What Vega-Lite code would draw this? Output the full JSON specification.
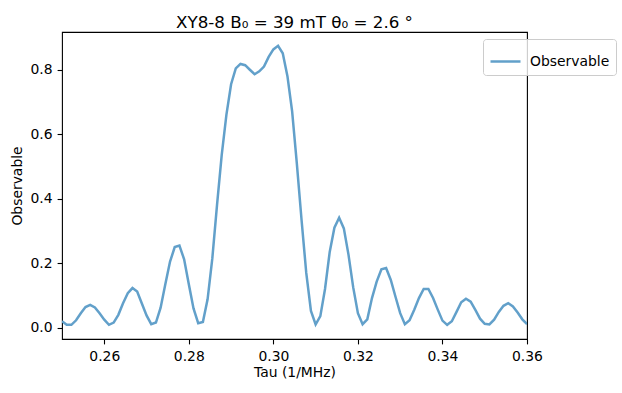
{
  "$schema": "https://vega.github.io/schema/vega-lite/v6.json",
  "width": 465,
  "height": 307,
  "autosize": "none",
  "padding": {"left": 62, "top": 32, "right": 95, "bottom": 54},
  "background": "white",
  "config": {
    "font": "DejaVu Sans",
    "view": {"stroke": "black", "strokeWidth": 1.1},
    "axis": {
      "domain": false,
      "grid": false,
      "tickColor": "black",
      "tickWidth": 1.1,
      "tickSize": 4.9,
      "labelColor": "black",
      "labelFontSize": 13.9,
      "labelFont": "DejaVu Sans",
      "titleFont": "DejaVu Sans",
      "titleFontSize": 13.9,
      "titleFontWeight": "normal",
      "titleColor": "black"
    }
  },
  "title": {
    "text": "XY8-8 B₀ = 39 mT θ₀ = 2.6 °",
    "font": "DejaVu Sans",
    "fontSize": 16.7,
    "fontWeight": "normal",
    "color": "black",
    "anchor": "middle",
    "baseline": "alphabetic",
    "offset": 9,
    "dy": 22
  },
  "data": {
    "values": [
      {"tau": 0.25, "obs": 0.02, "series": "Observable"},
      {"tau": 0.25111, "obs": 0.009, "series": "Observable"},
      {"tau": 0.25222, "obs": 0.009, "series": "Observable"},
      {"tau": 0.25333, "obs": 0.023, "series": "Observable"},
      {"tau": 0.25444, "obs": 0.045, "series": "Observable"},
      {"tau": 0.25556, "obs": 0.064, "series": "Observable"},
      {"tau": 0.25667, "obs": 0.071, "series": "Observable"},
      {"tau": 0.25778, "obs": 0.063, "series": "Observable"},
      {"tau": 0.25889, "obs": 0.045, "series": "Observable"},
      {"tau": 0.26, "obs": 0.025, "series": "Observable"},
      {"tau": 0.26111, "obs": 0.009, "series": "Observable"},
      {"tau": 0.26222, "obs": 0.016, "series": "Observable"},
      {"tau": 0.26333, "obs": 0.04, "series": "Observable"},
      {"tau": 0.26444, "obs": 0.076, "series": "Observable"},
      {"tau": 0.26556, "obs": 0.107, "series": "Observable"},
      {"tau": 0.26667, "obs": 0.123, "series": "Observable"},
      {"tau": 0.26778, "obs": 0.112, "series": "Observable"},
      {"tau": 0.26889, "obs": 0.075, "series": "Observable"},
      {"tau": 0.27, "obs": 0.038, "series": "Observable"},
      {"tau": 0.27111, "obs": 0.011, "series": "Observable"},
      {"tau": 0.27222, "obs": 0.016, "series": "Observable"},
      {"tau": 0.27333, "obs": 0.062, "series": "Observable"},
      {"tau": 0.27444, "obs": 0.135, "series": "Observable"},
      {"tau": 0.27556, "obs": 0.205, "series": "Observable"},
      {"tau": 0.27667, "obs": 0.25, "series": "Observable"},
      {"tau": 0.27778, "obs": 0.255, "series": "Observable"},
      {"tau": 0.27889, "obs": 0.212, "series": "Observable"},
      {"tau": 0.28, "obs": 0.135, "series": "Observable"},
      {"tau": 0.28111, "obs": 0.06, "series": "Observable"},
      {"tau": 0.28222, "obs": 0.014, "series": "Observable"},
      {"tau": 0.28333, "obs": 0.018, "series": "Observable"},
      {"tau": 0.28444, "obs": 0.088, "series": "Observable"},
      {"tau": 0.28556, "obs": 0.215, "series": "Observable"},
      {"tau": 0.28667, "obs": 0.38, "series": "Observable"},
      {"tau": 0.28778, "obs": 0.535, "series": "Observable"},
      {"tau": 0.28889, "obs": 0.66, "series": "Observable"},
      {"tau": 0.29, "obs": 0.755, "series": "Observable"},
      {"tau": 0.29111, "obs": 0.804, "series": "Observable"},
      {"tau": 0.29222, "obs": 0.818, "series": "Observable"},
      {"tau": 0.29333, "obs": 0.814, "series": "Observable"},
      {"tau": 0.29444, "obs": 0.8, "series": "Observable"},
      {"tau": 0.29556, "obs": 0.786, "series": "Observable"},
      {"tau": 0.29667, "obs": 0.795, "series": "Observable"},
      {"tau": 0.29778, "obs": 0.81, "series": "Observable"},
      {"tau": 0.29889, "obs": 0.84, "series": "Observable"},
      {"tau": 0.3, "obs": 0.863, "series": "Observable"},
      {"tau": 0.30111, "obs": 0.874, "series": "Observable"},
      {"tau": 0.30222, "obs": 0.851, "series": "Observable"},
      {"tau": 0.30333, "obs": 0.78, "series": "Observable"},
      {"tau": 0.30444, "obs": 0.671, "series": "Observable"},
      {"tau": 0.30556, "obs": 0.508, "series": "Observable"},
      {"tau": 0.30667, "obs": 0.334, "series": "Observable"},
      {"tau": 0.30778, "obs": 0.17, "series": "Observable"},
      {"tau": 0.30889, "obs": 0.052, "series": "Observable"},
      {"tau": 0.31, "obs": 0.01, "series": "Observable"},
      {"tau": 0.31111, "obs": 0.036, "series": "Observable"},
      {"tau": 0.31222, "obs": 0.12, "series": "Observable"},
      {"tau": 0.31333, "obs": 0.235, "series": "Observable"},
      {"tau": 0.31444, "obs": 0.31, "series": "Observable"},
      {"tau": 0.31556, "obs": 0.341, "series": "Observable"},
      {"tau": 0.31667, "obs": 0.308, "series": "Observable"},
      {"tau": 0.31778, "obs": 0.226, "series": "Observable"},
      {"tau": 0.31889, "obs": 0.125, "series": "Observable"},
      {"tau": 0.32, "obs": 0.045, "series": "Observable"},
      {"tau": 0.32111, "obs": 0.011, "series": "Observable"},
      {"tau": 0.32222, "obs": 0.026, "series": "Observable"},
      {"tau": 0.32333, "obs": 0.092, "series": "Observable"},
      {"tau": 0.32444, "obs": 0.143, "series": "Observable"},
      {"tau": 0.32556, "obs": 0.181, "series": "Observable"},
      {"tau": 0.32667, "obs": 0.185, "series": "Observable"},
      {"tau": 0.32778, "obs": 0.148, "series": "Observable"},
      {"tau": 0.32889, "obs": 0.096, "series": "Observable"},
      {"tau": 0.33, "obs": 0.045, "series": "Observable"},
      {"tau": 0.33111, "obs": 0.011, "series": "Observable"},
      {"tau": 0.33222, "obs": 0.023, "series": "Observable"},
      {"tau": 0.33333, "obs": 0.056, "series": "Observable"},
      {"tau": 0.33444, "obs": 0.092, "series": "Observable"},
      {"tau": 0.33556, "obs": 0.12, "series": "Observable"},
      {"tau": 0.33667, "obs": 0.12, "series": "Observable"},
      {"tau": 0.33778, "obs": 0.092, "series": "Observable"},
      {"tau": 0.33889, "obs": 0.056, "series": "Observable"},
      {"tau": 0.34, "obs": 0.022, "series": "Observable"},
      {"tau": 0.34111, "obs": 0.009, "series": "Observable"},
      {"tau": 0.34222, "obs": 0.02, "series": "Observable"},
      {"tau": 0.34333, "obs": 0.049, "series": "Observable"},
      {"tau": 0.34444, "obs": 0.079, "series": "Observable"},
      {"tau": 0.34556, "obs": 0.09, "series": "Observable"},
      {"tau": 0.34667, "obs": 0.081, "series": "Observable"},
      {"tau": 0.34778, "obs": 0.055, "series": "Observable"},
      {"tau": 0.34889, "obs": 0.028, "series": "Observable"},
      {"tau": 0.35, "obs": 0.012, "series": "Observable"},
      {"tau": 0.35111, "obs": 0.01, "series": "Observable"},
      {"tau": 0.35222, "obs": 0.025, "series": "Observable"},
      {"tau": 0.35333, "obs": 0.049, "series": "Observable"},
      {"tau": 0.35444, "obs": 0.068, "series": "Observable"},
      {"tau": 0.35556, "obs": 0.076, "series": "Observable"},
      {"tau": 0.35667, "obs": 0.066, "series": "Observable"},
      {"tau": 0.35778, "obs": 0.047, "series": "Observable"},
      {"tau": 0.35889, "obs": 0.026, "series": "Observable"},
      {"tau": 0.36, "obs": 0.011, "series": "Observable"}
    ]
  },
  "mark": {"type": "line", "strokeWidth": 2.5, "clip": true},
  "encoding": {
    "x": {
      "field": "tau",
      "type": "quantitative",
      "scale": {"domain": [0.25, 0.36], "nice": false, "zero": false},
      "axis": {
        "title": "Tau (1/MHz)",
        "values": [0.26, 0.28, 0.30, 0.32, 0.34, 0.36],
        "format": ".2f",
        "labelPadding": 6,
        "labelFlush": false,
        "titleX": 232.5,
        "titleY": 37,
        "titleAnchor": null,
        "titleAlign": "center",
        "titleBaseline": "alphabetic"
      }
    },
    "y": {
      "field": "obs",
      "type": "quantitative",
      "scale": {"domain": [-0.035, 0.917], "nice": false, "zero": false},
      "axis": {
        "title": "Observable",
        "values": [0, 0.2, 0.4, 0.6, 0.8],
        "format": ".1f",
        "labelPadding": 5,
        "labelFlush": false,
        "titleX": -45,
        "titleY": 153.5,
        "titleAngle": 270,
        "titleAlign": "center",
        "titleBaseline": "middle"
      }
    },
    "color": {
      "field": "series",
      "type": "nominal",
      "scale": {"domain": ["Observable"], "range": ["#62a0ca"]},
      "legend": {
        "title": null,
        "orient": "none",
        "legendX": 421,
        "legendY": 7,
        "symbolType": "stroke",
        "symbolSize": 900,
        "symbolStrokeWidth": 2.5,
        "labelFontSize": 13.9,
        "labelFont": "DejaVu Sans",
        "labelColor": "black",
        "labelOffset": 8,
        "padding": 6,
        "strokeColor": "#cccccc",
        "fillColor": "rgba(255,255,255,0.8)",
        "cornerRadius": 3
      }
    }
  }
}
